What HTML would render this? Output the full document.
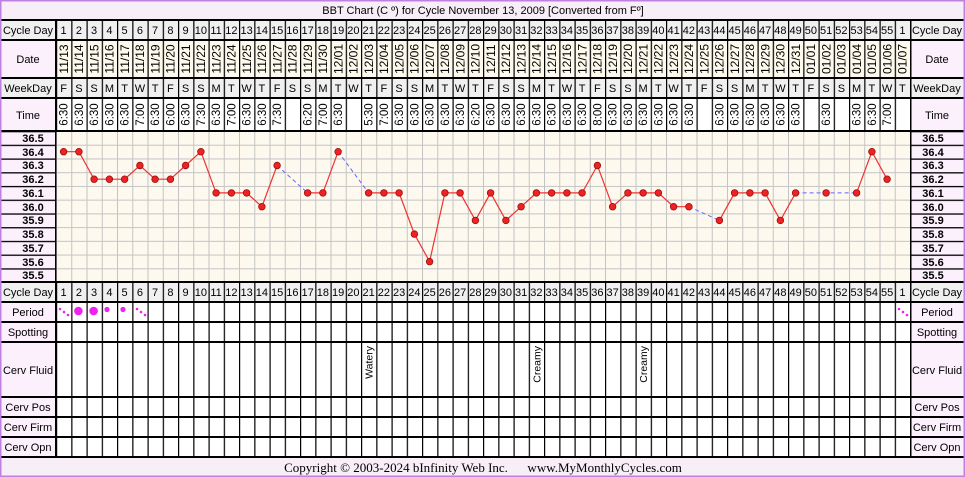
<!DOCTYPE html>
<html><head><meta charset="utf-8"><style>
html,body{margin:0;padding:0;background:#fff}
svg{display:block}
text{font-family:"Liberation Sans",sans-serif;font-size:11px;fill:#000}
.s{font-family:"Liberation Serif",serif;font-size:13px}
.v{font-size:10.5px}
.d{font-size:12px}
.t{font-size:11.5px}
.b{font-weight:bold;font-size:11px}
</style></head><body>
<svg width="965" height="477" viewBox="0 0 965 477" xmlns="http://www.w3.org/2000/svg">
<defs>
<pattern id="vb" x="56" y="0" width="15.25" height="10" patternUnits="userSpaceOnUse"><rect x="0" y="0" width="1.2" height="10" fill="#000"/></pattern>
<pattern id="vg" x="56" y="0" width="15.25" height="10" patternUnits="userSpaceOnUse"><rect x="0" y="0" width="1" height="10" fill="#c4c4c4"/></pattern>
<pattern id="hg" x="0" y="131" width="10" height="13.73" patternUnits="userSpaceOnUse"><rect x="0" y="0" width="10" height="1" fill="#c4c4c4"/></pattern>
<pattern id="hb" x="0" y="131" width="10" height="13.73" patternUnits="userSpaceOnUse"><rect x="0" y="0" width="10" height="1.3" fill="#000"/></pattern>
</defs>
<rect x="0" y="0" width="965" height="477" fill="#f8eef8"/>
<rect x="0" y="20" width="965" height="437" fill="#fff"/>
<rect x="0" y="20" width="56" height="437" fill="#fdf0fd"/>
<rect x="910" y="20" width="55" height="437" fill="#fdf0fd"/>
<rect x="0" y="20" width="56" height="20" fill="#f0f0f0"/>
<rect x="910" y="20" width="55" height="20" fill="#f0f0f0"/>
<rect x="0" y="78" width="56" height="20" fill="#f0f0f0"/>
<rect x="910" y="78" width="55" height="20" fill="#f0f0f0"/>
<rect x="0" y="282" width="56" height="20" fill="#f0f0f0"/>
<rect x="910" y="282" width="55" height="20" fill="#f0f0f0"/>
<rect x="56" y="20" width="854" height="20" fill="#f0f0f0"/>
<rect x="56" y="40" width="854" height="38" fill="#fdf9ec"/>
<rect x="56" y="78" width="854" height="20" fill="#f0f0f0"/>
<rect x="56" y="282" width="854" height="20" fill="#f0f0f0"/>
<rect x="56" y="131" width="854" height="151" fill="#fdf9ee"/>
<rect x="56" y="131" width="854" height="151" fill="url(#vg)"/>
<rect x="56" y="131" width="854" height="151" fill="url(#hg)"/>
<rect x="0" y="131" width="56" height="151" fill="url(#hb)"/>
<rect x="910" y="131" width="55" height="151" fill="url(#hb)"/>
<rect x="56" y="20" width="855" height="111" fill="url(#vb)"/>
<rect x="56" y="282" width="855" height="175" fill="url(#vb)"/>
<g fill="#000">
<rect x="0" y="19" width="965" height="2"/><rect x="0" y="39" width="965" height="2"/><rect x="0" y="77" width="965" height="2"/><rect x="0" y="97" width="965" height="2"/><rect x="0" y="130" width="965" height="2"/><rect x="0" y="281" width="965" height="2"/><rect x="0" y="301" width="965" height="2"/><rect x="0" y="321" width="965" height="2"/><rect x="0" y="341" width="965" height="2"/><rect x="0" y="396" width="965" height="2"/><rect x="0" y="416" width="965" height="2"/><rect x="0" y="436" width="965" height="2"/><rect x="0" y="456" width="965" height="2"/>
<rect x="55" y="20" width="1.5" height="437"/><rect x="910" y="20" width="1.5" height="437"/>
</g>
<rect x="0.75" y="0.75" width="963.5" height="475.5" fill="none" stroke="#c080e0" stroke-width="1.5"/>
<text x="483" y="14" text-anchor="middle" font-size="11">BBT Chart (C º) for Cycle November 13, 2009  [Converted from Fº]</text>
<text class="s" x="483" y="472" text-anchor="middle" xml:space="preserve">Copyright © 2003-2024 bInfinity Web Inc.      www.MyMonthlyCycles.com</text>
<g text-anchor="middle" font-size="11">
<text x="28" y="34">Cycle Day</text><text x="937" y="34">Cycle Day</text>
<text x="28" y="63">Date</text><text x="937" y="63">Date</text>
<text x="28" y="92">WeekDay</text><text x="937" y="92">WeekDay</text>
<text x="28" y="119">Time</text><text x="937" y="119">Time</text>
<text x="28" y="296">Cycle Day</text><text x="937" y="296">Cycle Day</text>
<text x="28" y="316">Period</text><text x="937" y="316">Period</text>
<text x="28" y="336">Spotting</text><text x="937" y="336">Spotting</text>
<text x="28" y="374">Cerv Fluid</text><text x="937" y="374">Cerv Fluid</text>
<text x="28" y="411">Cerv Pos</text><text x="937" y="411">Cerv Pos</text>
<text x="28" y="431">Cerv Firm</text><text x="937" y="431">Cerv Firm</text>
<text x="28" y="451">Cerv Opn</text><text x="937" y="451">Cerv Opn</text>
</g>
<g text-anchor="middle" class="b">
<text class="b" x="33" y="142">36.5</text><text class="b" x="33" y="156">36.4</text><text class="b" x="33" y="169">36.3</text><text class="b" x="33" y="183">36.2</text><text class="b" x="33" y="197">36.1</text><text class="b" x="33" y="211">36.0</text><text class="b" x="33" y="224">35.9</text><text class="b" x="33" y="238">35.8</text><text class="b" x="33" y="252">35.7</text><text class="b" x="33" y="266">35.6</text><text class="b" x="33" y="279">35.5</text>
<text class="b" x="933" y="142">36.5</text><text class="b" x="933" y="156">36.4</text><text class="b" x="933" y="169">36.3</text><text class="b" x="933" y="183">36.2</text><text class="b" x="933" y="197">36.1</text><text class="b" x="933" y="211">36.0</text><text class="b" x="933" y="224">35.9</text><text class="b" x="933" y="238">35.8</text><text class="b" x="933" y="252">35.7</text><text class="b" x="933" y="266">35.6</text><text class="b" x="933" y="279">35.5</text>
</g>
<g text-anchor="middle">
<text x="63.6" y="34">1</text><text x="78.9" y="34">2</text><text x="94.1" y="34">3</text><text x="109.4" y="34">4</text><text x="124.6" y="34">5</text><text x="139.9" y="34">6</text><text x="155.1" y="34">7</text><text x="170.4" y="34">8</text><text x="185.6" y="34">9</text><text x="200.9" y="34">10</text><text x="216.1" y="34">11</text><text x="231.4" y="34">12</text><text x="246.6" y="34">13</text><text x="261.9" y="34">14</text><text x="277.1" y="34">15</text><text x="292.4" y="34">16</text><text x="307.6" y="34">17</text><text x="322.9" y="34">18</text><text x="338.1" y="34">19</text><text x="353.4" y="34">20</text><text x="368.6" y="34">21</text><text x="383.9" y="34">22</text><text x="399.1" y="34">23</text><text x="414.4" y="34">24</text><text x="429.6" y="34">25</text><text x="444.9" y="34">26</text><text x="460.1" y="34">27</text><text x="475.4" y="34">28</text><text x="490.6" y="34">29</text><text x="505.9" y="34">30</text><text x="521.1" y="34">31</text><text x="536.4" y="34">32</text><text x="551.6" y="34">33</text><text x="566.9" y="34">34</text><text x="582.1" y="34">35</text><text x="597.4" y="34">36</text><text x="612.6" y="34">37</text><text x="627.9" y="34">38</text><text x="643.1" y="34">39</text><text x="658.4" y="34">40</text><text x="673.6" y="34">41</text><text x="688.9" y="34">42</text><text x="704.1" y="34">43</text><text x="719.4" y="34">44</text><text x="734.6" y="34">45</text><text x="749.9" y="34">46</text><text x="765.1" y="34">47</text><text x="780.4" y="34">48</text><text x="795.6" y="34">49</text><text x="810.9" y="34">50</text><text x="826.1" y="34">51</text><text x="841.4" y="34">52</text><text x="856.6" y="34">53</text><text x="871.9" y="34">54</text><text x="887.1" y="34">55</text><text x="902.4" y="34">1</text>
</g>
<g text-anchor="middle">
<text x="63.6" y="296">1</text><text x="78.9" y="296">2</text><text x="94.1" y="296">3</text><text x="109.4" y="296">4</text><text x="124.6" y="296">5</text><text x="139.9" y="296">6</text><text x="155.1" y="296">7</text><text x="170.4" y="296">8</text><text x="185.6" y="296">9</text><text x="200.9" y="296">10</text><text x="216.1" y="296">11</text><text x="231.4" y="296">12</text><text x="246.6" y="296">13</text><text x="261.9" y="296">14</text><text x="277.1" y="296">15</text><text x="292.4" y="296">16</text><text x="307.6" y="296">17</text><text x="322.9" y="296">18</text><text x="338.1" y="296">19</text><text x="353.4" y="296">20</text><text x="368.6" y="296">21</text><text x="383.9" y="296">22</text><text x="399.1" y="296">23</text><text x="414.4" y="296">24</text><text x="429.6" y="296">25</text><text x="444.9" y="296">26</text><text x="460.1" y="296">27</text><text x="475.4" y="296">28</text><text x="490.6" y="296">29</text><text x="505.9" y="296">30</text><text x="521.1" y="296">31</text><text x="536.4" y="296">32</text><text x="551.6" y="296">33</text><text x="566.9" y="296">34</text><text x="582.1" y="296">35</text><text x="597.4" y="296">36</text><text x="612.6" y="296">37</text><text x="627.9" y="296">38</text><text x="643.1" y="296">39</text><text x="658.4" y="296">40</text><text x="673.6" y="296">41</text><text x="688.9" y="296">42</text><text x="704.1" y="296">43</text><text x="719.4" y="296">44</text><text x="734.6" y="296">45</text><text x="749.9" y="296">46</text><text x="765.1" y="296">47</text><text x="780.4" y="296">48</text><text x="795.6" y="296">49</text><text x="810.9" y="296">50</text><text x="826.1" y="296">51</text><text x="841.4" y="296">52</text><text x="856.6" y="296">53</text><text x="871.9" y="296">54</text><text x="887.1" y="296">55</text><text x="902.4" y="296">1</text>
</g>
<g text-anchor="middle">
<text x="63.6" y="92">F</text><text x="78.9" y="92">S</text><text x="94.1" y="92">S</text><text x="109.4" y="92">M</text><text x="124.6" y="92">T</text><text x="139.9" y="92">W</text><text x="155.1" y="92">T</text><text x="170.4" y="92">F</text><text x="185.6" y="92">S</text><text x="200.9" y="92">S</text><text x="216.1" y="92">M</text><text x="231.4" y="92">T</text><text x="246.6" y="92">W</text><text x="261.9" y="92">T</text><text x="277.1" y="92">F</text><text x="292.4" y="92">S</text><text x="307.6" y="92">S</text><text x="322.9" y="92">M</text><text x="338.1" y="92">T</text><text x="353.4" y="92">W</text><text x="368.6" y="92">T</text><text x="383.9" y="92">F</text><text x="399.1" y="92">S</text><text x="414.4" y="92">S</text><text x="429.6" y="92">M</text><text x="444.9" y="92">T</text><text x="460.1" y="92">W</text><text x="475.4" y="92">T</text><text x="490.6" y="92">F</text><text x="505.9" y="92">S</text><text x="521.1" y="92">S</text><text x="536.4" y="92">M</text><text x="551.6" y="92">T</text><text x="566.9" y="92">W</text><text x="582.1" y="92">T</text><text x="597.4" y="92">F</text><text x="612.6" y="92">S</text><text x="627.9" y="92">S</text><text x="643.1" y="92">M</text><text x="658.4" y="92">T</text><text x="673.6" y="92">W</text><text x="688.9" y="92">T</text><text x="704.1" y="92">F</text><text x="719.4" y="92">S</text><text x="734.6" y="92">S</text><text x="749.9" y="92">M</text><text x="765.1" y="92">T</text><text x="780.4" y="92">W</text><text x="795.6" y="92">T</text><text x="810.9" y="92">F</text><text x="826.1" y="92">S</text><text x="841.4" y="92">S</text><text x="856.6" y="92">M</text><text x="871.9" y="92">T</text><text x="887.1" y="92">W</text><text x="902.4" y="92">T</text>
</g>
<g text-anchor="middle">
<text class="d" transform="translate(67.9,59) rotate(-90)">11/13</text><text class="d" transform="translate(83.2,59) rotate(-90)">11/14</text><text class="d" transform="translate(98.4,59) rotate(-90)">11/15</text><text class="d" transform="translate(113.7,59) rotate(-90)">11/16</text><text class="d" transform="translate(128.9,59) rotate(-90)">11/17</text><text class="d" transform="translate(144.2,59) rotate(-90)">11/18</text><text class="d" transform="translate(159.4,59) rotate(-90)">11/19</text><text class="d" transform="translate(174.7,59) rotate(-90)">11/20</text><text class="d" transform="translate(189.9,59) rotate(-90)">11/21</text><text class="d" transform="translate(205.2,59) rotate(-90)">11/22</text><text class="d" transform="translate(220.4,59) rotate(-90)">11/23</text><text class="d" transform="translate(235.7,59) rotate(-90)">11/24</text><text class="d" transform="translate(250.9,59) rotate(-90)">11/25</text><text class="d" transform="translate(266.2,59) rotate(-90)">11/26</text><text class="d" transform="translate(281.4,59) rotate(-90)">11/27</text><text class="d" transform="translate(296.7,59) rotate(-90)">11/28</text><text class="d" transform="translate(311.9,59) rotate(-90)">11/29</text><text class="d" transform="translate(327.2,59) rotate(-90)">11/30</text><text class="d" transform="translate(342.4,59) rotate(-90)">12/01</text><text class="d" transform="translate(357.7,59) rotate(-90)">12/02</text><text class="d" transform="translate(372.9,59) rotate(-90)">12/03</text><text class="d" transform="translate(388.2,59) rotate(-90)">12/04</text><text class="d" transform="translate(403.4,59) rotate(-90)">12/05</text><text class="d" transform="translate(418.7,59) rotate(-90)">12/06</text><text class="d" transform="translate(433.9,59) rotate(-90)">12/07</text><text class="d" transform="translate(449.2,59) rotate(-90)">12/08</text><text class="d" transform="translate(464.4,59) rotate(-90)">12/09</text><text class="d" transform="translate(479.7,59) rotate(-90)">12/10</text><text class="d" transform="translate(494.9,59) rotate(-90)">12/11</text><text class="d" transform="translate(510.2,59) rotate(-90)">12/12</text><text class="d" transform="translate(525.4,59) rotate(-90)">12/13</text><text class="d" transform="translate(540.7,59) rotate(-90)">12/14</text><text class="d" transform="translate(555.9,59) rotate(-90)">12/15</text><text class="d" transform="translate(571.2,59) rotate(-90)">12/16</text><text class="d" transform="translate(586.4,59) rotate(-90)">12/17</text><text class="d" transform="translate(601.7,59) rotate(-90)">12/18</text><text class="d" transform="translate(616.9,59) rotate(-90)">12/19</text><text class="d" transform="translate(632.2,59) rotate(-90)">12/20</text><text class="d" transform="translate(647.4,59) rotate(-90)">12/21</text><text class="d" transform="translate(662.7,59) rotate(-90)">12/22</text><text class="d" transform="translate(677.9,59) rotate(-90)">12/23</text><text class="d" transform="translate(693.2,59) rotate(-90)">12/24</text><text class="d" transform="translate(708.4,59) rotate(-90)">12/25</text><text class="d" transform="translate(723.7,59) rotate(-90)">12/26</text><text class="d" transform="translate(738.9,59) rotate(-90)">12/27</text><text class="d" transform="translate(754.2,59) rotate(-90)">12/28</text><text class="d" transform="translate(769.4,59) rotate(-90)">12/29</text><text class="d" transform="translate(784.7,59) rotate(-90)">12/30</text><text class="d" transform="translate(799.9,59) rotate(-90)">12/31</text><text class="d" transform="translate(815.2,59) rotate(-90)">01/01</text><text class="d" transform="translate(830.4,59) rotate(-90)">01/02</text><text class="d" transform="translate(845.7,59) rotate(-90)">01/03</text><text class="d" transform="translate(860.9,59) rotate(-90)">01/04</text><text class="d" transform="translate(876.2,59) rotate(-90)">01/05</text><text class="d" transform="translate(891.4,59) rotate(-90)">01/06</text><text class="d" transform="translate(906.7,59) rotate(-90)">01/07</text>
</g>
<g text-anchor="middle">
<text class="t" transform="translate(67.7,114.5) rotate(-90)">6:30</text><text class="t" transform="translate(83,114.5) rotate(-90)">6:30</text><text class="t" transform="translate(98.2,114.5) rotate(-90)">6:30</text><text class="t" transform="translate(113.5,114.5) rotate(-90)">6:30</text><text class="t" transform="translate(128.7,114.5) rotate(-90)">6:30</text><text class="t" transform="translate(144,114.5) rotate(-90)">7:00</text><text class="t" transform="translate(159.2,114.5) rotate(-90)">6:30</text><text class="t" transform="translate(174.5,114.5) rotate(-90)">6:00</text><text class="t" transform="translate(189.7,114.5) rotate(-90)">6:30</text><text class="t" transform="translate(205,114.5) rotate(-90)">7:30</text><text class="t" transform="translate(220.2,114.5) rotate(-90)">6:30</text><text class="t" transform="translate(235.5,114.5) rotate(-90)">7:00</text><text class="t" transform="translate(250.7,114.5) rotate(-90)">6:30</text><text class="t" transform="translate(266,114.5) rotate(-90)">6:30</text><text class="t" transform="translate(281.2,114.5) rotate(-90)">7:30</text><text class="t" transform="translate(311.7,114.5) rotate(-90)">6:20</text><text class="t" transform="translate(327,114.5) rotate(-90)">7:00</text><text class="t" transform="translate(342.2,114.5) rotate(-90)">6:30</text><text class="t" transform="translate(372.7,114.5) rotate(-90)">5:30</text><text class="t" transform="translate(388,114.5) rotate(-90)">7:00</text><text class="t" transform="translate(403.2,114.5) rotate(-90)">6:30</text><text class="t" transform="translate(418.5,114.5) rotate(-90)">6:30</text><text class="t" transform="translate(433.7,114.5) rotate(-90)">6:30</text><text class="t" transform="translate(449,114.5) rotate(-90)">6:30</text><text class="t" transform="translate(464.2,114.5) rotate(-90)">6:30</text><text class="t" transform="translate(479.5,114.5) rotate(-90)">6:20</text><text class="t" transform="translate(494.7,114.5) rotate(-90)">6:30</text><text class="t" transform="translate(510,114.5) rotate(-90)">6:30</text><text class="t" transform="translate(525.2,114.5) rotate(-90)">6:30</text><text class="t" transform="translate(540.5,114.5) rotate(-90)">6:30</text><text class="t" transform="translate(555.7,114.5) rotate(-90)">6:30</text><text class="t" transform="translate(571,114.5) rotate(-90)">6:30</text><text class="t" transform="translate(586.2,114.5) rotate(-90)">6:30</text><text class="t" transform="translate(601.5,114.5) rotate(-90)">8:00</text><text class="t" transform="translate(616.7,114.5) rotate(-90)">6:30</text><text class="t" transform="translate(632,114.5) rotate(-90)">6:30</text><text class="t" transform="translate(647.2,114.5) rotate(-90)">6:30</text><text class="t" transform="translate(662.5,114.5) rotate(-90)">6:30</text><text class="t" transform="translate(677.7,114.5) rotate(-90)">6:30</text><text class="t" transform="translate(693,114.5) rotate(-90)">6:30</text><text class="t" transform="translate(723.5,114.5) rotate(-90)">6:30</text><text class="t" transform="translate(738.7,114.5) rotate(-90)">6:30</text><text class="t" transform="translate(754,114.5) rotate(-90)">6:30</text><text class="t" transform="translate(769.2,114.5) rotate(-90)">6:30</text><text class="t" transform="translate(784.5,114.5) rotate(-90)">6:30</text><text class="t" transform="translate(799.7,114.5) rotate(-90)">6:30</text><text class="t" transform="translate(830.2,114.5) rotate(-90)">6:30</text><text class="t" transform="translate(860.7,114.5) rotate(-90)">6:30</text><text class="t" transform="translate(876,114.5) rotate(-90)">6:30</text><text class="t" transform="translate(891.2,114.5) rotate(-90)">7:00</text>
</g>
<g text-anchor="end">
<text class="v" transform="translate(372.5,346) rotate(-90)">Watery</text>
<text class="v" transform="translate(540.3,346) rotate(-90)">Creamy</text>
<text class="v" transform="translate(647,346) rotate(-90)">Creamy</text>
</g>
<g fill="#ee22ee">
<circle cx="60" cy="309" r="1.3"/><circle cx="64" cy="312" r="1.3"/><circle cx="68" cy="315" r="1.3"/>
<circle cx="78.4" cy="311" r="4.3"/><circle cx="93.6" cy="311" r="4.3"/>
<circle cx="107" cy="309.5" r="2.6"/><circle cx="123" cy="309.5" r="2.6"/>
<circle cx="137" cy="309" r="1.3"/><circle cx="141" cy="312" r="1.3"/><circle cx="145" cy="315" r="1.3"/>
<circle cx="899" cy="309" r="1.3"/><circle cx="903" cy="312" r="1.3"/><circle cx="907" cy="315" r="1.3"/>
</g>
<g fill="none" stroke="#6666ff" stroke-width="1" stroke-dasharray="4,3">
<polyline points="277.1,165.5 307.6,192.9"/><polyline points="338.1,151.7 368.6,192.9"/><polyline points="688.9,206.7 719.4,220.4"/><polyline points="795.6,192.9 856.6,192.9"/>
</g>
<g fill="none" stroke="#ee3333" stroke-width="1.2">
<polyline points="63.6,151.7 78.9,151.7 94.1,179.2 109.4,179.2 124.6,179.2 139.9,165.5 155.1,179.2 170.4,179.2 185.6,165.5 200.9,151.7 216.1,192.9 231.4,192.9 246.6,192.9 261.9,206.7 277.1,165.5"/>
<polyline points="307.6,192.9 322.9,192.9 338.1,151.7"/>
<polyline points="368.6,192.9 383.9,192.9 399.1,192.9 414.4,234.1 429.6,261.6 444.9,192.9 460.1,192.9 475.4,220.4 490.6,192.9 505.9,220.4 521.1,206.7 536.4,192.9 551.6,192.9 566.9,192.9 582.1,192.9 597.4,165.5 612.6,206.7 627.9,192.9 643.1,192.9 658.4,192.9 673.6,206.7 688.9,206.7"/>
<polyline points="719.4,220.4 734.6,192.9 749.9,192.9 765.1,192.9 780.4,220.4 795.6,192.9"/>
<polyline points="856.6,192.9 871.9,151.7 887.1,179.2"/>
</g>
<g fill="#ee2222" stroke="#991111" stroke-width="0.8">
<circle cx="63.6" cy="151.7" r="3.3"/><circle cx="78.9" cy="151.7" r="3.3"/><circle cx="94.1" cy="179.2" r="3.3"/><circle cx="109.4" cy="179.2" r="3.3"/><circle cx="124.6" cy="179.2" r="3.3"/><circle cx="139.9" cy="165.5" r="3.3"/><circle cx="155.1" cy="179.2" r="3.3"/><circle cx="170.4" cy="179.2" r="3.3"/><circle cx="185.6" cy="165.5" r="3.3"/><circle cx="200.9" cy="151.7" r="3.3"/><circle cx="216.1" cy="192.9" r="3.3"/><circle cx="231.4" cy="192.9" r="3.3"/><circle cx="246.6" cy="192.9" r="3.3"/><circle cx="261.9" cy="206.7" r="3.3"/><circle cx="277.1" cy="165.5" r="3.3"/><circle cx="307.6" cy="192.9" r="3.3"/><circle cx="322.9" cy="192.9" r="3.3"/><circle cx="338.1" cy="151.7" r="3.3"/><circle cx="368.6" cy="192.9" r="3.3"/><circle cx="383.9" cy="192.9" r="3.3"/><circle cx="399.1" cy="192.9" r="3.3"/><circle cx="414.4" cy="234.1" r="3.3"/><circle cx="429.6" cy="261.6" r="3.3"/><circle cx="444.9" cy="192.9" r="3.3"/><circle cx="460.1" cy="192.9" r="3.3"/><circle cx="475.4" cy="220.4" r="3.3"/><circle cx="490.6" cy="192.9" r="3.3"/><circle cx="505.9" cy="220.4" r="3.3"/><circle cx="521.1" cy="206.7" r="3.3"/><circle cx="536.4" cy="192.9" r="3.3"/><circle cx="551.6" cy="192.9" r="3.3"/><circle cx="566.9" cy="192.9" r="3.3"/><circle cx="582.1" cy="192.9" r="3.3"/><circle cx="597.4" cy="165.5" r="3.3"/><circle cx="612.6" cy="206.7" r="3.3"/><circle cx="627.9" cy="192.9" r="3.3"/><circle cx="643.1" cy="192.9" r="3.3"/><circle cx="658.4" cy="192.9" r="3.3"/><circle cx="673.6" cy="206.7" r="3.3"/><circle cx="688.9" cy="206.7" r="3.3"/><circle cx="719.4" cy="220.4" r="3.3"/><circle cx="734.6" cy="192.9" r="3.3"/><circle cx="749.9" cy="192.9" r="3.3"/><circle cx="765.1" cy="192.9" r="3.3"/><circle cx="780.4" cy="220.4" r="3.3"/><circle cx="795.6" cy="192.9" r="3.3"/><circle cx="826.1" cy="192.9" r="3.3"/><circle cx="856.6" cy="192.9" r="3.3"/><circle cx="871.9" cy="151.7" r="3.3"/><circle cx="887.1" cy="179.2" r="3.3"/>
</g>
</svg>
</body></html>
